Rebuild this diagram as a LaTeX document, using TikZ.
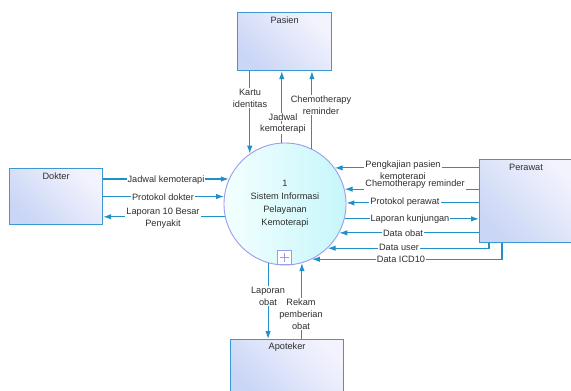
\documentclass[tikz,border=0pt]{standalone}
\usepackage{fontspec}
\setmainfont{Liberation Sans}
\usetikzlibrary{arrows.meta,calc}

\definecolor{flowc}{HTML}{2290C8}
\definecolor{boxedge}{HTML}{3C98D2}
\definecolor{boxtl}{HTML}{CAD6F6}
\definecolor{boxbr}{HTML}{F3F3FD}
\definecolor{procedge}{HTML}{9C9CEE}
\definecolor{procleft}{HTML}{F4FFFF}
\definecolor{procright}{HTML}{C6F6FA}
\definecolor{textc}{HTML}{2E2E2E}

\tikzset{
  entity/.style={draw=boxedge, line width=1.2pt,
    top color=boxtl, bottom color=boxbr, shading angle=135,
    anchor=north west, inner sep=0pt},
  enttitle/.style={text=textc, font=\fontsize{9.2}{11}\selectfont, inner sep=0pt},
  process/.style={circle, draw=procedge, line width=0.9pt,
    left color=procleft, right color=procright, minimum size=122pt, inner sep=0pt,
    text=textc, align=center, font=\fontsize{9.2}{13}\selectfont},
  flow/.style={draw=flowc, line width=1.1pt, -{Latex[length=8pt,width=5.5pt]}},
  flowlabel/.style={fill=white, text=textc, align=center, inner sep=1pt,
    font=\fontsize{9.2}{12}\selectfont},
}

\begin{document}
\begin{tikzpicture}[x=1pt, y=-1pt]
  \clip (0,0) rectangle (571,391);
  \fill[white] (0,0) rectangle (571,391);

  % central process
  \node[process] (proc) at (285,204) {1\\Sistem Informasi\\Pelayanan\\Kemoterapi};

  % external entities
  \node[entity, minimum width=94pt, minimum height=58pt] (pas) at (237,12) {};
  \node[enttitle] (pastitle) at ($(pas.north)+(0,8.5)$) {Pasien};
  \node[entity, minimum width=93pt, minimum height=56pt] (dok) at (9,168) {};
  \node[enttitle] (doktitle) at ($(dok.north)+(0,8.5)$) {Dokter};
  \node[entity, minimum width=100pt, minimum height=83pt] (per) at (479,159) {};
  \node[enttitle] (pertitle) at ($(per.north west)+(47,8.5)$) {Perawat};
  \node[entity, minimum width=113pt, minimum height=58pt] (apo) at (230,339) {};
  \node[enttitle] (apotitle) at ($(apo.north)+(0,8.5)$) {Apoteker};

  % expand marker of the process
  \node[draw=procedge, fill=white, line width=0.8pt, minimum size=14pt, inner sep=0pt]
    (expand) at (284.5,257) {};
  \draw[procedge, line width=0.8pt] ($(expand.center)+(-4.5,0)$) -- ($(expand.center)+(4.5,0)$)
    ($(expand.center)+(0,-4.5)$) -- ($(expand.center)+(0,4.5)$);

  % Pasien flows
  \draw[flow] (proc.125 |- pas.south) -- (proc.125);
  \draw[flow] (proc.93.8) -- (proc.93.8 |- pas.south);
  \draw[flow] (proc.64.8) -- (proc.64.8 |- pas.south);
  \node[flowlabel] (lkartu) at (250,98) {Kartu\\identitas};
  \node[flowlabel] (lchemop) at (321,105) {Chemotherapy\\reminder};
  \node[flowlabel] (ljadp) at (283,117) {Jadwal};
  \node[flowlabel] (ljadp2) at (283,129) {kemoterapi};

  % Dokter flows
  \draw[flow] (dok.east |- proc.156.8) -- (proc.156.8);
  \draw[flow] (dok.east |- proc.173.4) -- (proc.173.4);
  \draw[flow] (proc.192.3) -- (dok.east |- proc.192.3);
  \node[flowlabel] (ljadd) at (166,180) {Jadwal kemoterapi};
  \node[flowlabel] (lprotd) at (163,197) {Protokol dokter};
  \node[flowlabel] (llap10) at (163,218.5) {Laporan 10 Besar\\Penyakit};

  % Perawat flows
  \draw[flow] (per.west |- proc.36.2) -- (proc.36.2);
  \draw[flow] (per.west |- proc.14.2) -- (proc.14.2);
  \draw[flow] (per.west |- proc.1.9) -- (proc.1.9);
  \draw[flow] (proc.-14.2) -- (per.west |- proc.-14.2);
  \draw[flow] (per.west |- proc.-28.4) -- (proc.-28.4);
  \draw[flow] ($(per.south west)+(10,0)$) |- (proc.-46.2);
  \draw[flow] ($(per.south west)+(23,0)$) |- (proc.-64.4);
  \node[flowlabel] (lpengkaj) at (403,171) {Pengkajian pasien\\kemoterapi};
  \node[flowlabel] (lchemor) at (415,184.5) {Chemotherapy reminder};
  \node[flowlabel] (lprotp) at (405,202) {Protokol perawat};
  \node[flowlabel] (llapk) at (410,219) {Laporan kunjungan};
  \node[flowlabel] (ldobat) at (403,233) {Data obat};
  \node[flowlabel] (lduser) at (399,247.5) {Data user};
  \node[flowlabel] (licd) at (401,259.5) {Data ICD10};

  % Apoteker flows
  \draw[flow] (proc.-106.2) -- (proc.-106.2 |- apo.north);
  \draw[flow] (proc.-74.8 |- apo.north) -- (proc.-74.8);
  \node[flowlabel] (llapobat) at (268,296) {Laporan\\obat};
  \node[flowlabel] (lrekam) at (301,314) {Rekam\\pemberian\\obat};
\end{tikzpicture}
\end{document}
